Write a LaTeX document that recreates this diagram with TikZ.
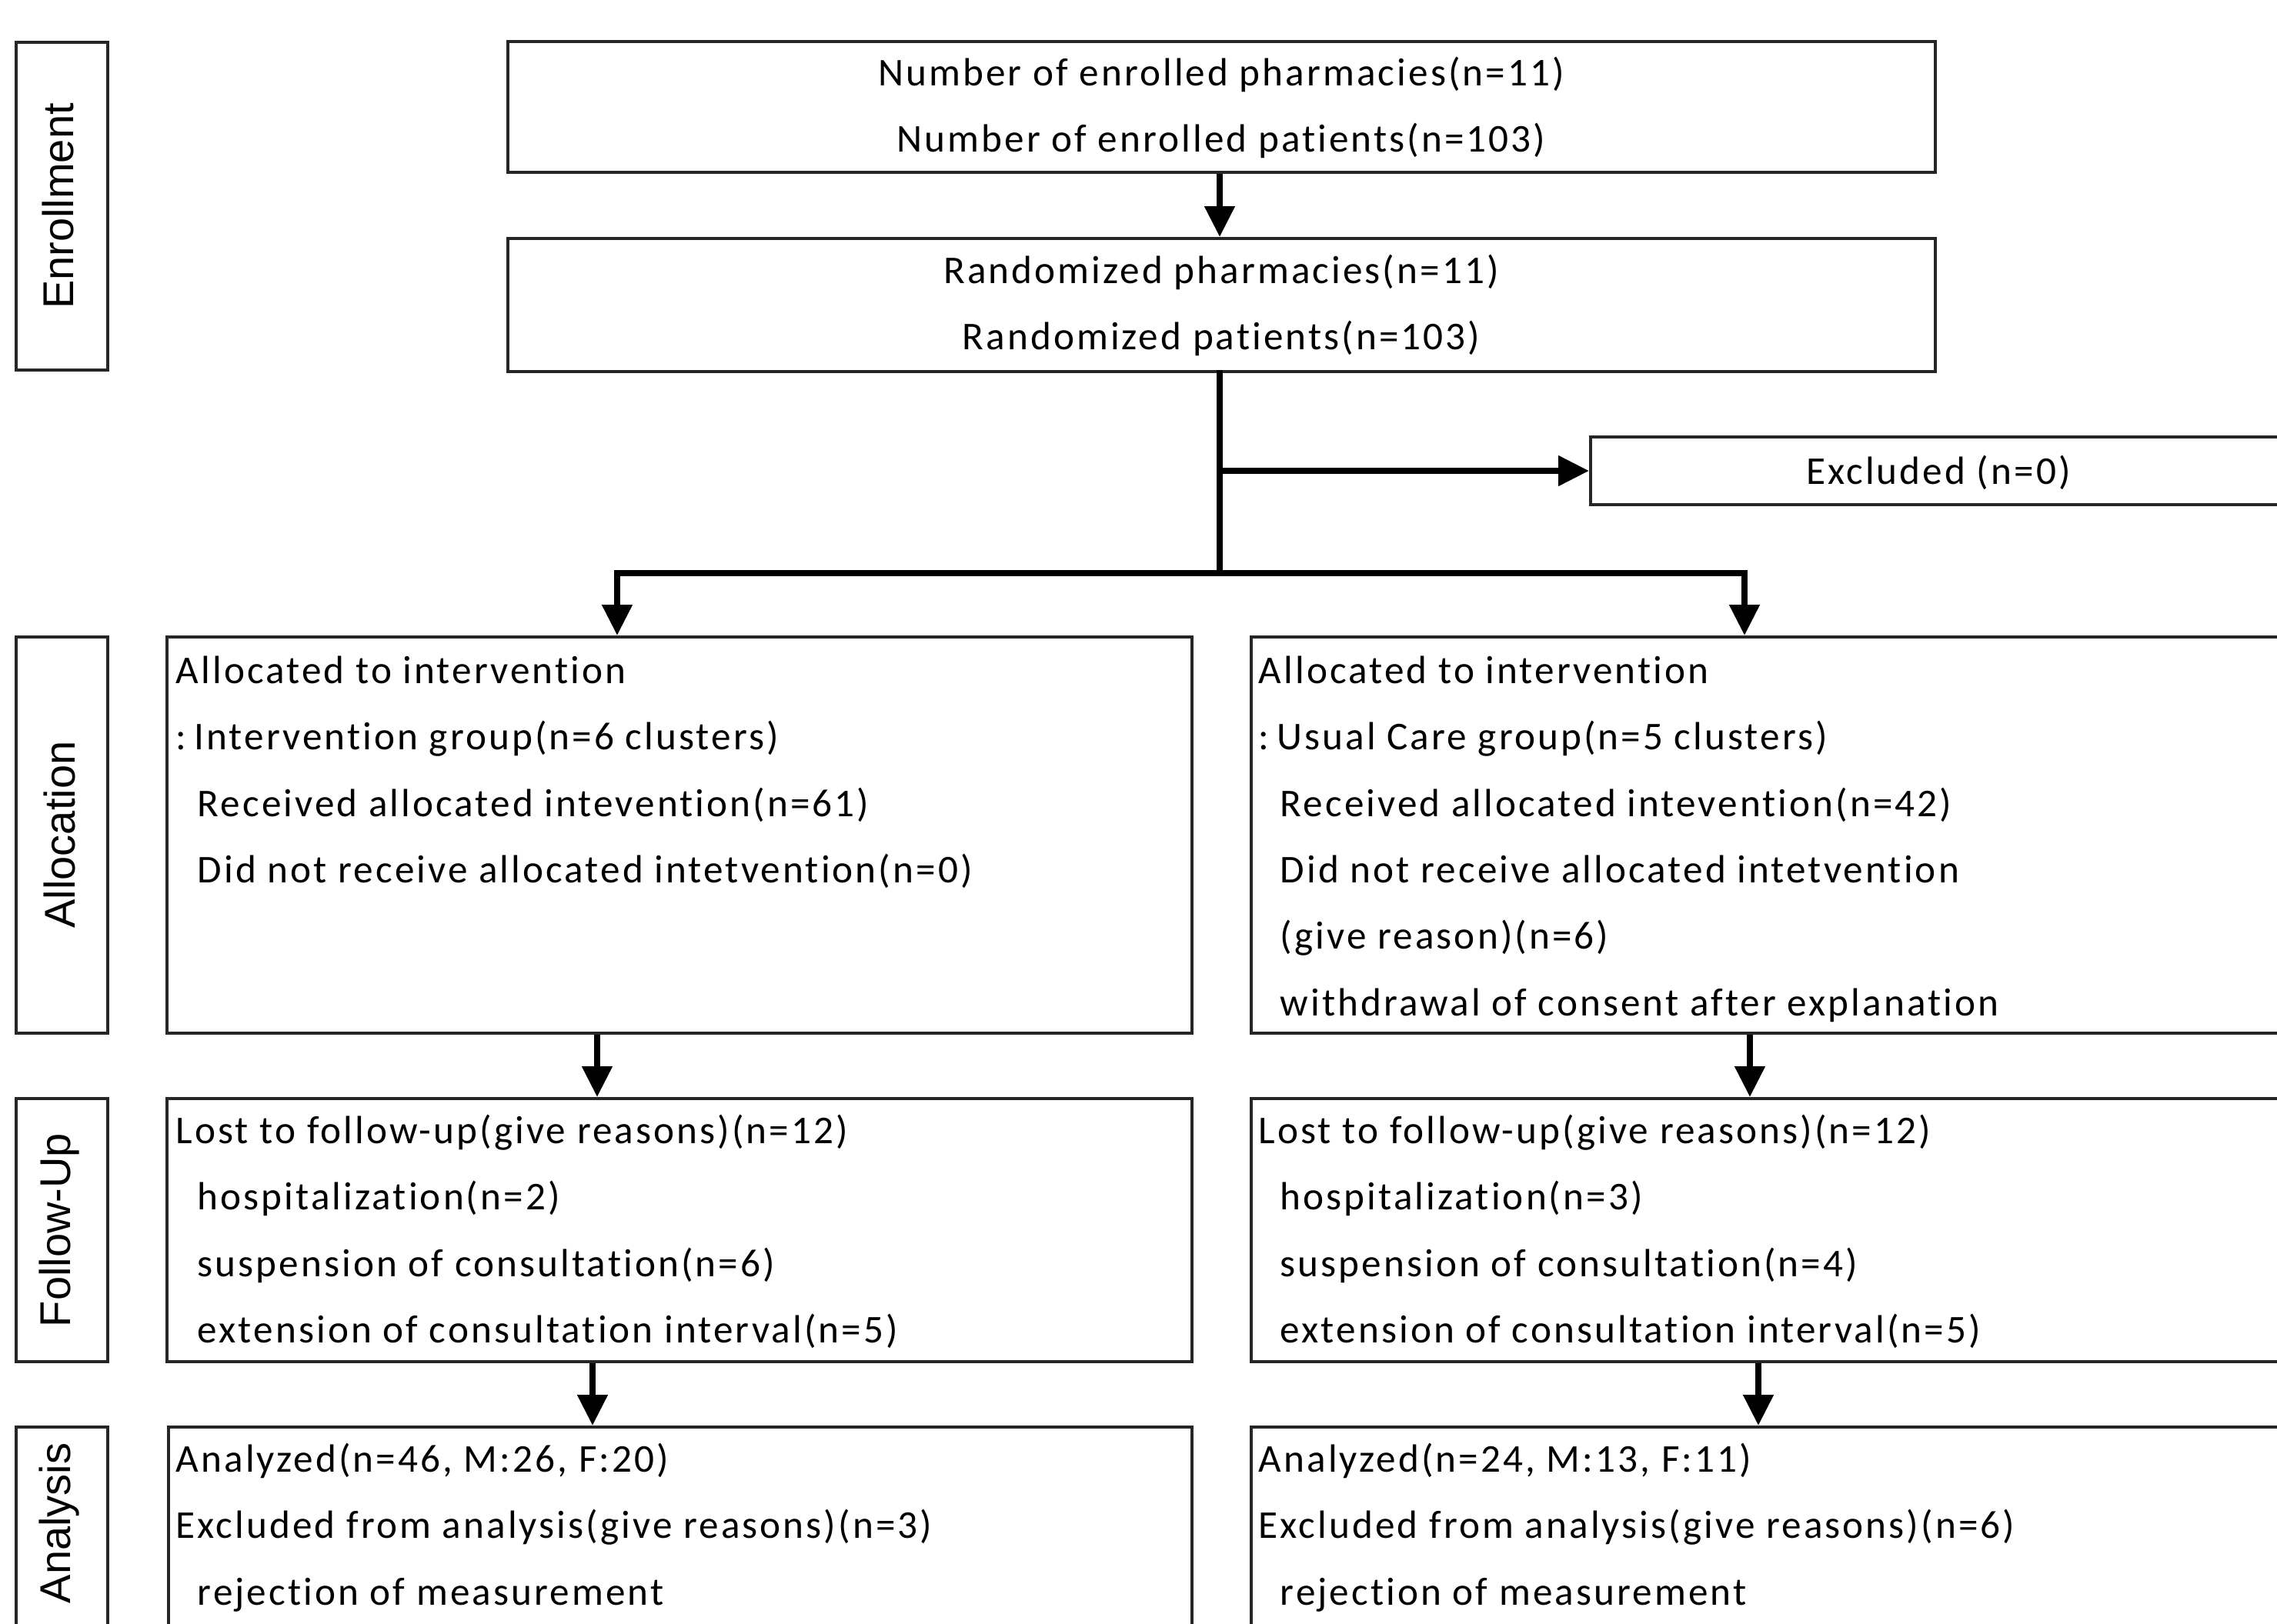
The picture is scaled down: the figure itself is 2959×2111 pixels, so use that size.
\documentclass[tikz,border=0pt]{standalone}
\usepackage{fontspec}
\setmainfont{Carlito}
\newfontfamily\boxfont[LetterSpace=6,Ligatures={NoCommon,NoRequired,NoContextual}]{Carlito}
\newfontfamily\labelfont{Liberation Sans}
\usetikzlibrary{arrows.meta,fit}
\newcommand{\ind}{\hspace*{7pt}}
\begin{document}
\begin{tikzpicture}[x=0.25pt,y=-0.25pt,
  box/.style={draw=black!85, line width=1pt, inner sep=0pt, rectangle},
  vlabel/.style={rotate=90, font=\labelfont\fontsize{14pt}{16pt}\selectfont, inner sep=0pt},
  txt/.style={font=\boxfont\fontsize{12.8pt}{21.6pt}\selectfont, inner sep=0pt, align=left, anchor=north west},
  ctxt/.style={font=\boxfont\fontsize{12.8pt}{21.6pt}\selectfont, inner sep=0pt, align=center, anchor=north},
  ln/.style={line width=2pt, line cap=rect},
  arr/.style={line width=2pt, -{Triangle[length=10pt,width=9.5pt]}}]
\useasboundingbox (0,0) rectangle (2959,2111);
\clip (0,0) rectangle (2959,2111);
\fill[white] (0,0) rectangle (2959,2111);

% stage labels
\node[box, fit={(21,55)(140,481)}] (lEnr) {};
\node[vlabel] (tEnr) at (75,268) {Enrollment};
\node[box, fit={(21,828)(140,1343)}] (lAll) {};
\node[vlabel] (tAll) at (77,1085) {Allocation};
\node[box, fit={(21,1428)(140,1770)}] (lFol) {};
\node[vlabel] (tFol) at (77,1599) {Follow-Up};
\node[box, fit={(21,1855)(140,2200)}] (lAna) {};
\node[vlabel] (tAna) at (77,1980) {Analysis};

% top boxes
\node[box, fit={(660,54)(2515,224)}] (b1) {};
\node[ctxt] (t1) at (1587,50) {\strut Number of enrolled pharmacies(n=11)\\Number of enrolled patients(n=103)};
\node[box, fit={(660,310)(2515,483)}] (b2) {};
\node[ctxt] (t2) at (1587,307) {\strut Randomized pharmacies(n=11)\\Randomized patients(n=103)};

\node[box, fit={(2067,568)(3100,656)}] (excl) {};
\node[font=\boxfont\fontsize{12.8pt}{21.6pt}\selectfont, inner sep=0pt] (tEx) at (2519,612) {\strut Excluded (n=0)};

% allocation
\node[box, fit={(217,828)(1549,1343)}] (alL) {};
\node[txt] (talL) at (228,827) {\strut Allocated to intervention\\:\hspace{2.5pt}Intervention group(n=6 clusters)\\\ind Received allocated intevention(n=61)\\\ind Did not receive allocated intetvention(n=0)};
\node[box, fit={(1626,828)(3100,1343)}] (alR) {};
\node[txt] (talR) at (1635,827) {\strut Allocated to intervention\\:\hspace{2.5pt}Usual Care group(n=5 clusters)\\\ind Received allocated intevention(n=42)\\\ind Did not receive allocated intetvention\\\ind (give reason)(n=6)\\\ind withdrawal of consent after explanation};

% follow-up
\node[box, fit={(217,1428)(1549,1770)}] (foL) {};
\node[txt] (tfoL) at (228,1425) {\strut Lost to follow-up(give reasons)(n=12)\\\ind hospitalization(n=2)\\\ind suspension of consultation(n=6)\\\ind extension of consultation interval(n=5)};
\node[box, fit={(1626,1428)(3100,1770)}] (foR) {};
\node[txt] (tfoR) at (1635,1425) {\strut Lost to follow-up(give reasons)(n=12)\\\ind hospitalization(n=3)\\\ind suspension of consultation(n=4)\\\ind extension of consultation interval(n=5)};

% analysis
\node[box, fit={(219,1855)(1549,2200)}] (anL) {};
\node[txt] (tanL) at (228,1852) {\strut Analyzed(n=46, M:26, F:20)\\Excluded from analysis(give reasons)(n=3)\\\ind rejection of measurement};
\node[box, fit={(1626,1855)(3100,2200)}] (anR) {};
\node[txt] (tanR) at (1635,1852) {\strut Analyzed(n=24, M:13, F:11)\\Excluded from analysis(give reasons)(n=6)\\\ind rejection of measurement};

% connectors
\coordinate (jL) at (802,745);
\coordinate (jR) at (2267,745);
\coordinate (aL) at (776,0);
\coordinate (aR) at (2274,0);
\coordinate (cL) at (770,0);
\coordinate (cR) at (2285,0);
\coordinate (mx) at (1585,0);

\draw[arr] (b1.south -| mx) -- (b2.north -| mx);
\draw[ln] (b2.south -| mx) -- (jL -| mx);
\draw[ln] (jL) -- (jR);
\draw[arr] (excl.west -| mx) -- (excl.west);
\draw[arr] (jL) -- (jL |- alL.north);
\draw[arr] (jR) -- (jR |- alR.north);
\draw[arr] (alL.south -| aL) -- (foL.north -| aL);
\draw[arr] (alR.south -| aR) -- (foR.north -| aR);
\draw[arr] (foL.south -| cL) -- (anL.north -| cL);
\draw[arr] (foR.south -| cR) -- (anR.north -| cR);
\end{tikzpicture}
\end{document}
